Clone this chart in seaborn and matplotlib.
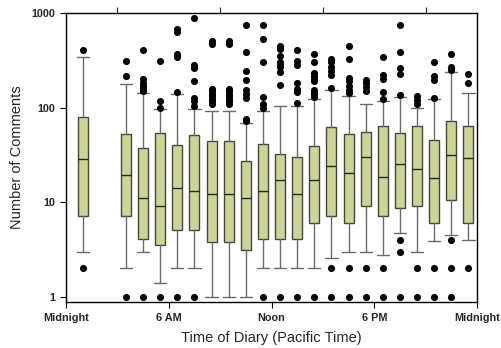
import pandas as pd
import matplotlib
matplotlib.use("Agg")
import matplotlib.pyplot as plt
import seaborn as sns

# hour position of each box (first box collects the early-morning hours)
positions = [1, 3.5, 4.5, 5.5, 6.5, 7.5, 8.5, 9.5, 10.5, 11.5, 12.5,
             13.5, 14.5, 15.5, 16.5, 17.5, 18.5, 19.5, 20.5, 21.5, 22.5, 23.5]

whis_low = [3, 2, 3, 1.4, 2, 2, 1, 1, 1, 2, 2, 2, 2, 2.6, 3, 3, 2.8, 4.7, 3, 3.9, 4.5, 4]
q1 = [7.1, 7.1, 4.1, 3.5, 5.1, 5.1, 3.8, 3.8, 3.1, 4.1, 4.1, 4.1, 6.1, 7.1, 6.1, 9.2,
      7.1, 8.7, 9.2, 6.1, 10.6, 6.1]
median = [29, 19.5, 11.2, 9.2, 14.1, 13.2, 12.2, 12.2, 11.1, 13.2, 17.2, 12.2, 17.2,
          24.3, 20.4, 30, 18.3, 25.4, 22.4, 18, 31.3, 29.4]
q3 = [80, 53, 37.7, 54.4, 40.3, 50.9, 44.8, 44.8, 27, 41.3, 32.3, 29.8, 39, 63, 53,
      55.3, 64.5, 53.9, 64.5, 45.9, 71.7, 64.5]
whis_high = [344, 178, 143, 97.6, 140, 97.6, 91.4, 91.4, 68.9, 93, 103, 104.6, 124,
             152, 132, 110, 119, 129, 99, 124, 236, 143]

outliers = [
    [411, 2],
    [309, 218, 1],
    [411, 203, 180, 170, 160, 150, 1],
    [314, 117, 100, 1],
    [681, 626, 373, 344, 148, 1],
    [875, 285, 263, 190, 126, 117, 103, 1],
    [502, 472, 157, 150, 140, 132, 124, 117, 108],
    [502, 472, 157, 150, 140, 132, 124, 117, 108],
    [755, 385, 246, 194, 155, 140, 125, 76, 73],
    [738, 525, 301, 130, 108, 100, 1],
    [445, 418, 350, 300, 285, 270, 236, 175, 1],
    [404, 309, 285, 181, 158, 146, 112, 1],
    [373, 304, 233, 215, 200, 190, 153, 145, 138, 131, 1],
    [330, 300, 270, 245, 224, 161, 2, 1],
    [445, 330, 208, 190, 170, 155, 143, 2, 1],
    [194, 180, 165, 149, 2, 1],
    [344, 224, 203, 147, 122, 2, 1],
    [738, 385, 263, 228, 137, 4, 3, 1],
    [134, 120, 108, 2, 1],
    [304, 214, 194, 126, 2, 1],
    [370, 267, 253, 4, 2, 1],
    [229, 180, 2],
]

hour_ticks = [0, 6, 12, 18, 24]
hour_labels = ["Midnight", "6 AM", "Noon", "6 PM", "Midnight"]

sns.set_style("ticks")
plt.rcParams["font.family"] = ["Liberation Sans", "DejaVu Sans"]

fig = plt.figure(figsize=(5.01, 3.48), dpi=100)
ax = fig.add_axes([66 / 501, 1 - 302 / 348, (477 - 66) / 501, (302 - 13) / 348])

stats = []
for i in range(len(positions)):
    stats.append({"whislo": whis_low[i], "q1": q1[i], "med": median[i],
                  "q3": q3[i], "whishi": whis_high[i], "fliers": []})

ax.bxp(stats, positions=positions, widths=0.58, capwidths=0.72,
       patch_artist=True, showfliers=False,
       boxprops=dict(facecolor="#cdd494", edgecolor="#454545", linewidth=1.0),
       whiskerprops=dict(color="#6a6a6a", linewidth=1.0),
       capprops=dict(color="#6a6a6a", linewidth=1.0),
       medianprops=dict(color="#262626", linewidth=1.0))

rows = []
for pos, vals in zip(positions, outliers):
    for v in vals:
        rows.append({"hour": pos, "comments": v})
df = pd.DataFrame(rows)
sns.scatterplot(data=df, x="hour", y="comments", ax=ax, color="black",
                s=26, edgecolor="black", linewidth=0, zorder=5, legend=False)

ax.set_yscale("log")
ax.set_ylim(0.885, 1000)
ax.set_xlim(0, 24)
ax.set_yticks([1, 10, 100, 1000])
ax.set_yticklabels(["1", "10", "100", "1000"])
ax.minorticks_off()
ax.set_xticks(hour_ticks)
ax.set_xticklabels(hour_labels)

for lab in ax.get_xticklabels() + ax.get_yticklabels():
    lab.set_fontweight("bold")
    lab.set_fontsize(7.8)
ax.tick_params(axis="both", direction="out", length=4, width=0.8, color="black", pad=4)

top = ax.secondary_xaxis("top")
top.set_xticks([3, 9, 15, 21])
top.set_xticklabels([])
top.tick_params(direction="out", length=4, width=0.8)
top.spines["top"].set_visible(False)

for sp in ax.spines.values():
    sp.set_color("black")
    sp.set_linewidth(1.0)

ax.set_xlabel("Time of Diary (Pacific Time)", fontsize=10.5, labelpad=6)
ax.set_ylabel("Number of Comments", fontsize=10.5, labelpad=5)

fig.savefig("out.png", dpi=100)
